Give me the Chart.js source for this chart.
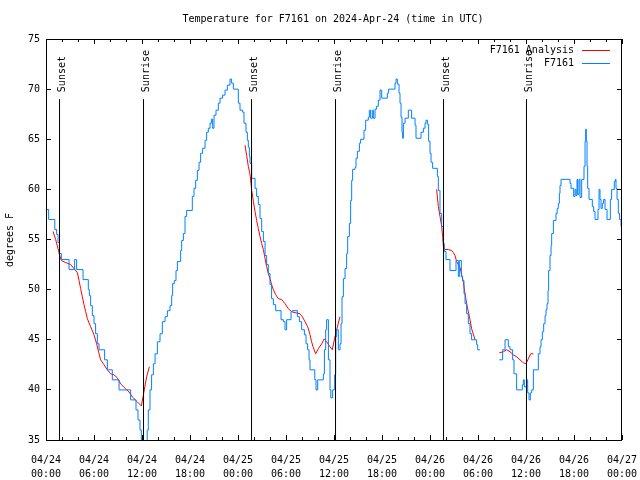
<!DOCTYPE html>
<html><head><meta charset="utf-8">
<script src="https://cdn.jsdelivr.net/npm/chart.js@4/dist/chart.umd.min.js"></script>
<style>html,body{margin:0;padding:0;background:#fff;overflow:hidden}canvas{display:block}</style>
</head><body>
<canvas id="c" width="640" height="480"></canvas>
<script>
// ---- data (hours since 2024-04-24 00:00 UTC, degrees F) ----
const titleText = 'Temperature for F7161 on 2024-Apr-24 (time in UTC)';
const yAxisLabel = 'degrees F';
const seriesNames = ['F7161 Analysis', 'F7161'];

const obsHours = [0.0,0.33,1.1,1.33,1.5,1.67,1.92,2.88,3.58,3.83,4.63,5.29,5.42,5.58,5.79,6.0,6.2,6.42,6.63,7.33,7.67,8.29,9.13,10.58,11.25,11.5,11.75,11.92,12.0,12.65,12.79,13.0,13.2,13.42,13.63,13.92,14.25,14.54,14.88,15.17,15.5,15.71,15.83,16.04,16.25,16.42,16.83,16.96,17.17,17.38,17.58,18.29,18.5,18.71,18.92,19.13,19.33,19.58,19.88,20.08,20.29,20.5,20.67,20.83,21.0,21.25,21.54,21.75,22.08,22.38,22.67,23.0,23.2,23.42,24.04,24.25,24.58,24.75,25.0,25.17,25.29,25.42,25.5,25.71,26.13,26.33,26.54,26.75,26.96,27.17,27.38,27.58,27.79,28.0,28.2,28.42,28.71,29.38,29.67,29.88,30.08,30.63,30.79,31.42,31.67,31.96,32.3,32.5,32.7,32.88,33.0,33.6,33.75,33.96,34.67,34.8,34.96,35.08,35.3,35.5,35.6,35.83,36.08,36.21,36.33,36.54,36.75,36.88,37.0,37.17,37.38,37.58,37.71,37.92,38.08,38.21,38.33,38.63,38.75,38.92,39.17,39.33,39.75,39.96,40.29,40.42,40.58,40.79,40.92,41.13,41.33,41.54,41.75,41.96,42.67,42.83,43.63,43.75,43.92,44.13,44.25,44.38,44.5,44.58,44.67,44.88,45.29,45.7,46.13,46.25,46.88,47.17,47.38,47.5,47.67,47.83,48.0,48.13,48.33,48.92,49.04,49.25,49.46,49.67,49.79,50.0,50.5,51.25,51.54,51.67,51.92,52.08,52.25,52.38,52.58,52.79,53.0,53.2,53.83,53.96,54.25,55.0,56.67,57.08,57.38,57.79,58.0,58.33,58.5,58.83,59.54,59.67,59.79,60.08,60.21,60.38,60.54,60.71,60.92,61.54,61.75,61.88,62.04,62.21,62.38,62.5,62.63,62.75,62.83,63.0,63.13,63.21,63.42,63.75,63.9,64.04,64.17,64.25,64.38,65.5,65.63,65.96,66.13,66.25,66.38,66.46,66.63,66.75,66.96,67.25,67.38,67.46,67.54,67.63,67.71,67.88,68.29,68.46,68.63,69.0,69.13,69.25,69.38,69.54,69.7,69.88,70.13,70.54,70.7,71.04,71.17,71.25,71.38,71.54,71.7,71.88,71.95];
const obsTemps = [58,57,56,55.5,54.7,53.6,53,52,53,52,51,50,49.4,48.4,47.4,46.6,45.6,44.6,44,43,42,41,40,39,38,37,36,35,34,36,38,40,41.5,42.6,43.6,44.8,45.6,46.8,47.3,47.9,48.4,49.4,50.6,50.9,51.9,52.8,53.9,54.9,55.6,57.3,57.9,59.3,60.1,60.9,61.9,62.7,63.6,64.1,64.9,65.7,66.1,66.6,67.0,66.1,67.4,67.9,68.6,69.1,69.4,69.9,70.4,71.0,70.6,70.0,68.6,67.9,67.7,66.6,65.7,64.9,64.2,63.3,62.6,61.1,60.1,59.3,58.5,57.1,55.8,54.8,53.4,52.5,51.6,50.5,49.1,48.5,47.9,47.0,46.8,46.0,47.0,47.8,47.9,47.3,46.8,46.0,45.5,44.6,44.0,43.0,42.0,41.0,40.0,41.0,41.6,44.0,46.0,47.0,43.0,40.0,39.2,40.0,41.5,45.3,46.0,44.0,44.6,46.6,49.3,51.1,52.1,53.6,55.3,56.6,58.9,60.9,62.0,62.2,63.1,63.8,64.6,65.0,65.9,66.9,67.2,67.9,67.1,67.9,67.1,68.0,68.3,68.9,69.9,69.1,69.6,70.0,70.6,71.0,70.5,69.6,68.6,67.2,65.7,65.1,66.6,67.1,67.9,67.1,66.4,65.1,65.7,66.1,66.6,66.9,66.5,64.8,63.6,62.7,62.1,61.3,59.9,57.6,56.3,54.6,53.8,53.0,51.9,52.9,51.3,52.9,51.3,50.9,49.6,48.6,47.6,46.6,45.6,45.0,44.5,44.0,44.0,null,43,44,45,44.3,44,43,41.6,40,40.5,41,40.3,41,39.7,39,39.7,40,42,43.6,44.3,45,45.8,46.6,47.4,48,48.6,49.9,51.9,53.4,54.4,55.6,56.9,57.6,58.1,58.6,59.6,60.4,61.0,60.6,60.1,59.3,60,59.4,61,59.5,61,59.2,61,62.3,64.8,66,64.8,62.3,60.1,59.0,58.3,57.8,57.0,58,60,59,58.1,58.6,59,58,57,59,60,60.8,61.0,60.1,59,57.6,57,56.3,56.3];

const anaHours = [0.88,1.21,1.5,1.71,1.92,2.46,3.08,3.5,3.92,4.13,4.33,4.54,4.75,4.96,5.17,5.58,6.0,6.33,6.63,6.83,7.25,7.67,8.08,8.5,8.92,9.33,9.96,10.38,10.79,11.42,11.92,12.17,12.58,12.92,18.0,24.88,25.08,25.29,25.5,25.71,25.92,26.13,26.33,26.54,26.75,26.96,27.17,27.38,27.58,27.79,28.0,28.2,28.42,28.71,29.04,29.46,29.88,30.29,30.71,31.13,31.75,32.04,32.38,32.71,33.0,33.2,33.42,33.71,34.04,34.46,34.79,35.08,35.5,35.79,36.04,36.33,36.75,42.0,48.83,49.04,49.25,49.46,49.58,49.67,49.88,50.29,50.71,50.92,51.13,51.33,51.54,51.75,51.96,52.17,52.38,52.58,52.79,53.0,53.2,53.4,53.63,55.0,56.67,57.17,57.58,58.0,58.42,58.83,59.25,59.67,60.0,60.29,60.58,60.92];
const anaTemps = [55.8,55.0,54.1,53.4,52.9,52.7,52.5,52.1,51.7,50.9,50.1,49.3,48.5,47.8,47.1,46.3,45.5,44.6,43.6,43.0,42.5,42.0,41.6,41.5,41.2,40.6,40.1,39.8,39.3,38.8,38.4,39.5,41.3,42.3,null,64.4,63.4,62.3,61.5,59.9,58.8,57.8,56.9,56.1,55.3,54.6,54.0,53.1,52.3,51.6,51.1,50.5,50.0,49.5,49.1,49.0,48.6,48.1,47.8,47.7,47.6,47.3,46.8,46.3,45.5,44.8,44.2,43.6,44.1,44.6,45.1,44.8,44.3,44.0,45.0,46.0,47.3,null,60.0,58.3,57.3,56.3,55.3,54.3,54.0,54.0,53.9,53.7,53.4,52.8,52.5,52.2,51.5,50.7,49.6,48.6,47.8,47.0,46.1,45.6,45.0,null,43.7,43.8,44.0,43.8,43.5,43.3,43.0,42.7,42.6,43.1,43.6,43.6];

const sunsetHours = [1.69, 25.69, 49.69];
const sunriseHours = [12.19, 36.19, 60.06];
const tickDates = ['04/24','04/24','04/24','04/24','04/25','04/25','04/25','04/25','04/26','04/26','04/26','04/26','04/27'];
const tickTimes = ['00:00','06:00','12:00','18:00','00:00','06:00','12:00','18:00','00:00','06:00','12:00','18:00','00:00'];
const yTickValues = [35,40,45,50,55,60,65,70,75];

// ---- styles ----
const FONT = '"DejaVu Sans Mono", "Liberation Mono", monospace';
const BLUE = '#0080ff';
const RED = '#ff0000';
const EVENT_TOP = 69; // vertical marker height (85% of graph)

const toXY = (hs, ts) => hs.map((h, i) => ({x: h, y: ts[i]}));
const eventPoints = [];
[...sunsetHours, ...sunriseHours].forEach(h => {
  eventPoints.push({x: h, y: 35}, {x: h, y: EVENT_TOP}, {x: h, y: null});
});
const events = [
  ...sunsetHours.map(h => ({h, label: 'Sunset'})),
  ...sunriseHours.map(h => ({h, label: 'Sunrise'}))
];

const decor = {
  id: 'decor',
  afterDraw(chart) {
    const {ctx, chartArea: a, scales: {x, y}} = chart;
    ctx.save();
    ctx.strokeStyle = '#000';
    ctx.lineWidth = 1;
    const L = Math.round(a.left), R = Math.round(a.right), T = Math.round(a.top), B = Math.round(a.bottom);
    ctx.strokeRect(L + 0.5, T + 0.5, R - L - 1, B - T);
    ctx.beginPath();
    for (let h = 0; h <= 72; h += 2) {
      const px = Math.floor(x.getPixelForValue(h)) + 0.5;
      const len = (h % 6 === 0) ? 5 : 3;
      ctx.moveTo(px, B); ctx.lineTo(px, B - len);
      ctx.moveTo(px, T); ctx.lineTo(px, T + len);
    }
    yTickValues.forEach(v => {
      const py = Math.floor(y.getPixelForValue(v)) + 0.5;
      ctx.moveTo(L, py); ctx.lineTo(L + 5, py);
      ctx.moveTo(R, py); ctx.lineTo(R - 5, py);
    });
    ctx.stroke();

    ctx.fillStyle = '#000';
    ctx.font = '10px ' + FONT;
    ctx.textAlign = 'center';
    ctx.textBaseline = 'middle';
    ctx.fillText(titleText, 333, 19);

    ctx.save();
    ctx.translate(10, 240);
    ctx.rotate(-Math.PI / 2);
    ctx.fillText(yAxisLabel, 0, 0);
    ctx.restore();

    const labelStart = y.getPixelForValue(EVENT_TOP) - 7;
    events.forEach(ev => {
      const px = x.getPixelForValue(ev.h);
      ctx.save();
      ctx.translate(px + 5.5, labelStart);
      ctx.rotate(-Math.PI / 2);
      ctx.textAlign = 'left';
      ctx.textBaseline = 'alphabetic';
      ctx.fillText(ev.label, 0, 0);
      ctx.restore();
    });

    // legend
    const legendColors = [RED, BLUE];
    seriesNames.forEach((name, i) => {
      const ly = 50 + i * 13;
      ctx.textAlign = 'right';
      ctx.textBaseline = 'middle';
      ctx.fillStyle = '#000';
      ctx.fillText(name, 574, ly);
      ctx.strokeStyle = legendColors[i];
      ctx.beginPath();
      ctx.moveTo(582, Math.floor(ly) + 0.5);
      ctx.lineTo(610, Math.floor(ly) + 0.5);
      ctx.stroke();
    });
    ctx.restore();
  }
};

new Chart(document.getElementById('c'), {
  type: 'line',
  data: {
    datasets: [
      {label: 'events', data: eventPoints, borderColor: '#000', borderWidth: 1, pointRadius: 0, spanGaps: false, tension: 0},
      {label: seriesNames[1], data: toXY(obsHours, obsTemps), borderColor: BLUE, borderWidth: 1, pointRadius: 0, stepped: 'before', spanGaps: false},
      {label: seriesNames[0], data: toXY(anaHours, anaTemps), borderColor: RED, borderWidth: 1, pointRadius: 0, spanGaps: false, tension: 0}
    ]
  },
  options: {
    responsive: false,
    animation: false,
    devicePixelRatio: 1,
    layout: {padding: {top: 39, right: 18, left: 0, bottom: 0}},
    plugins: {legend: {display: false}, tooltip: {enabled: false}, title: {display: false}},
    scales: {
      x: {
        type: 'linear', min: 0, max: 72,
        afterFit: s => { s.height = 40; s.paddingLeft = 0; s.paddingRight = 0; },
        grid: {display: false, drawTicks: false},
        border: {display: false},
        ticks: {
          stepSize: 6, autoSkip: false, maxRotation: 0, padding: 13,
          color: '#000', font: {family: FONT, size: 10, lineHeight: 1.4},
          callback: v => [tickDates[Math.round(v / 6)], tickTimes[Math.round(v / 6)]]
        }
      },
      y: {
        min: 35, max: 75,
        afterFit: s => { s.width = 46; s.paddingTop = 0; s.paddingBottom = 0; },
        grid: {display: false, drawTicks: false},
        border: {display: false},
        ticks: {stepSize: 5, padding: 6, color: '#000', font: {family: FONT, size: 10}}
      }
    }
  },
  plugins: [decor]
});
</script>
</body></html>
